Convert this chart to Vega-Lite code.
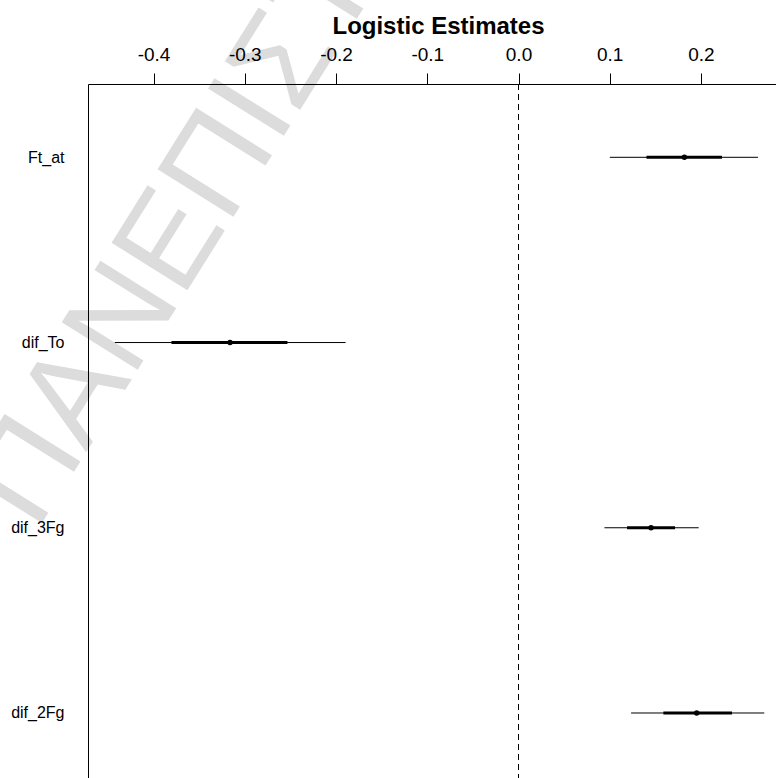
{
  "$schema": "https://vega.github.io/schema/vega-lite/v6.json",
  "width": 688,
  "height": 694,
  "autosize": {"type": "none"},
  "padding": {"left": 88, "top": 84, "right": 0, "bottom": 0},
  "background": "white",
  "config": {
    "view": {"stroke": null},
    "font": "Liberation Sans",
    "axis": {"labelFont": "Liberation Sans", "titleFont": "Liberation Sans", "labelColor": "black", "titleColor": "black", "domainColor": "black", "tickColor": "black", "grid": false}
  },
  "data": {
    "values": [
      {"variable": "Ft_at", "estimate": 0.1818, "lo_1se": 0.1403, "hi_1se": 0.2230, "lo_2se": 0.1001, "hi_2se": 0.2625},
      {"variable": "dif_To", "estimate": -0.3162, "lo_1se": -0.3804, "hi_1se": -0.2533, "lo_2se": -0.4425, "hi_2se": -0.1895},
      {"variable": "dif_3Fg", "estimate": 0.1453, "lo_1se": 0.1190, "hi_1se": 0.1716, "lo_2se": 0.0942, "hi_2se": 0.1975},
      {"variable": "dif_2Fg", "estimate": 0.1953, "lo_1se": 0.1588, "hi_1se": 0.2340, "lo_2se": 0.1234, "hi_2se": 0.2694}
    ]
  },
  "layer": [
    {
      "data": {"values": [{"label": "ΠΑΝΕΠΙΣΤΗΜΙΟ ΠΕΙΡΑΙΩΣ"}]},
      "mark": {"type": "text", "angle": 302, "align": "left", "baseline": "alphabetic", "dx": -5, "font": "Liberation Sans", "fontSize": 130, "color": "#dcdcdc"},
      "encoding": {
        "x": {"datum": -0.5257, "type": "quantitative"},
        "y": {"datum": "dif_3Fg", "type": "nominal"},
        "text": {"field": "label"}
      }
    },
    {
      "data": {"values": [{"reference": 0}]},
      "mark": {"type": "rule", "color": "black", "strokeWidth": 1, "strokeDash": [6, 4]},
      "encoding": {
        "x": {"field": "reference", "type": "quantitative"}
      }
    },
    {
      "mark": {"type": "rule", "color": "black", "strokeWidth": 1},
      "encoding": {
        "y": {
          "field": "variable",
          "type": "nominal",
          "sort": null,
          "scale": {"type": "point", "domain": ["Ft_at", "dif_To", "dif_3Fg", "dif_2Fg"], "padding": 0.37335, "align": 0.53},
          "axis": {"orient": "left", "title": null, "ticks": false, "labelFontSize": 16, "labelPadding": 24, "labelAlign": "right", "labelBaseline": "middle", "zindex": 2}
        },
        "x": {
          "field": "lo_2se",
          "type": "quantitative",
          "title": "Logistic Estimates",
          "scale": {"domain": [-0.47188, 0.28225], "nice": false, "zero": false},
          "axis": {
            "orient": "top",
            "zindex": 2,
            "values": [-0.4, -0.3, -0.2, -0.1, 0, 0.1, 0.2],
            "labelExpr": "replace(format(datum.value, '.1f'), '\u2212', '-')",
            "labelFontSize": 19,
            "tickSize": 11,
            "labelPadding": 13,
            "labelBaseline": "alphabetic",
            "labelFlush": false,
            "labelOverlap": false,
            "titleFontSize": 24,
            "titleFontWeight": "bold",
            "titleAlign": "center",
            "titleBaseline": "alphabetic",
            "titleX": 350,
            "titleY": -51
          }
        },
        "x2": {"field": "hi_2se"}
      }
    },
    {
      "mark": {"type": "rule", "color": "black", "strokeWidth": 3},
      "encoding": {
        "y": {"field": "variable", "type": "nominal", "sort": null},
        "x": {"field": "lo_1se", "type": "quantitative"},
        "x2": {"field": "hi_1se"}
      }
    },
    {
      "mark": {"type": "point", "filled": true, "color": "black", "opacity": 1, "size": 30},
      "encoding": {
        "y": {"field": "variable", "type": "nominal", "sort": null},
        "x": {"field": "estimate", "type": "quantitative"}
      }
    }
  ]
}
